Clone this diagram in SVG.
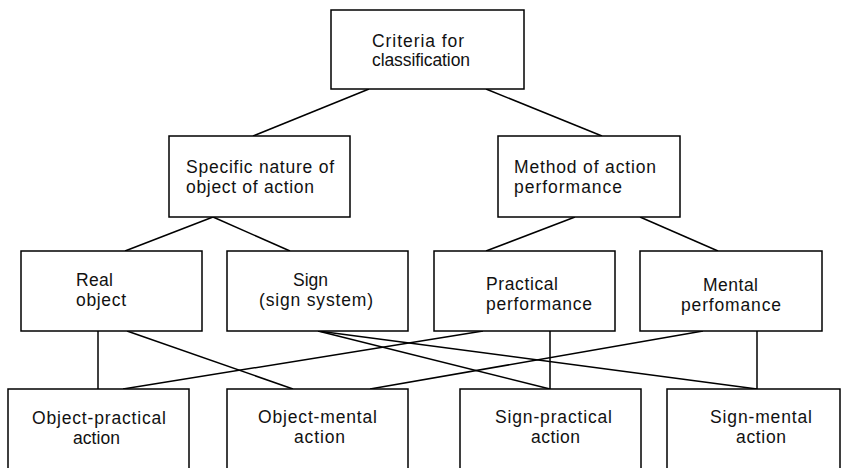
<svg xmlns="http://www.w3.org/2000/svg" width="841" height="468" viewBox="0 0 841 468">
<style>
rect{fill:#fff;stroke:#000;stroke-width:1.5}
#connectors line{stroke:#000;stroke-width:1.5}
text{font-family:"Liberation Sans",Arial,sans-serif;font-size:17.5px;fill:#111}
</style>
<rect x="0" y="0" width="841" height="468" style="stroke:none"/>
<g id="connectors">
<line x1="369" y1="89" x2="253" y2="136"/>
<line x1="486" y1="89" x2="602" y2="136"/>
<line x1="213" y1="217" x2="125" y2="251"/>
<line x1="213" y1="217" x2="290" y2="251"/>
<line x1="575" y1="217" x2="486" y2="251"/>
<line x1="640" y1="217" x2="718" y2="251"/>
<line x1="98" y1="331" x2="98" y2="389"/>
<line x1="127" y1="331" x2="293" y2="389"/>
<line x1="318" y1="331" x2="550" y2="389"/>
<line x1="318" y1="331" x2="757" y2="389"/>
<line x1="483" y1="331" x2="123" y2="389"/>
<line x1="550" y1="331" x2="550" y2="389"/>
<line x1="703" y1="331" x2="370" y2="389"/>
<line x1="757" y1="331" x2="757" y2="389"/>
</g>
<g id="criteria">
<rect x="331" y="10" width="193" height="79"/>
<text x="372" y="47" textLength="92" lengthAdjust="spacing">Criteria for</text>
<text x="372" y="66" textLength="98" lengthAdjust="spacing">classification</text>
</g>
<g id="specific">
<rect x="169" y="136" width="181" height="81"/>
<text x="186" y="173" textLength="148" lengthAdjust="spacing">Specific nature of</text>
<text x="186" y="193" textLength="128" lengthAdjust="spacing">object of action</text>
</g>
<g id="method">
<rect x="498" y="136" width="182" height="81"/>
<text x="514" y="173" textLength="142" lengthAdjust="spacing">Method of action</text>
<text x="514" y="193" textLength="108" lengthAdjust="spacing">performance</text>
</g>
<g id="real">
<rect x="21" y="251" width="181" height="80"/>
<text x="76" y="286" textLength="37" lengthAdjust="spacing">Real</text>
<text x="76" y="306" textLength="50" lengthAdjust="spacing">object</text>
</g>
<g id="sign">
<rect x="227" y="251" width="181" height="80"/>
<text x="293" y="286" textLength="35" lengthAdjust="spacing">Sign</text>
<text x="259" y="306" textLength="114" lengthAdjust="spacing">(sign system)</text>
</g>
<g id="practical">
<rect x="434" y="251" width="181" height="80"/>
<text x="486" y="290" textLength="72" lengthAdjust="spacing">Practical</text>
<text x="486" y="310" textLength="106" lengthAdjust="spacing">performance</text>
</g>
<g id="mental">
<rect x="640" y="251" width="182" height="80"/>
<text x="703" y="291" textLength="55" lengthAdjust="spacing">Mental</text>
<text x="681" y="311" textLength="100" lengthAdjust="spacing">perfomance</text>
</g>
<g id="object-practical">
<rect x="8" y="389" width="181" height="90"/>
<text x="32" y="424" textLength="134" lengthAdjust="spacing">Object-practical</text>
<text x="73" y="444" textLength="47" lengthAdjust="spacing">action</text>
</g>
<g id="object-mental">
<rect x="227" y="389" width="181" height="90"/>
<text x="258" y="423" textLength="119" lengthAdjust="spacing">Object-mental</text>
<text x="294" y="443" textLength="51" lengthAdjust="spacing">action</text>
</g>
<g id="sign-practical">
<rect x="460" y="389" width="181" height="90"/>
<text x="495" y="423" textLength="117" lengthAdjust="spacing">Sign-practical</text>
<text x="531" y="443" textLength="49" lengthAdjust="spacing">action</text>
</g>
<g id="sign-mental">
<rect x="667" y="389" width="173" height="90"/>
<text x="710" y="423" textLength="102" lengthAdjust="spacing">Sign-mental</text>
<text x="736" y="443" textLength="50" lengthAdjust="spacing">action</text>
</g>
</svg>
